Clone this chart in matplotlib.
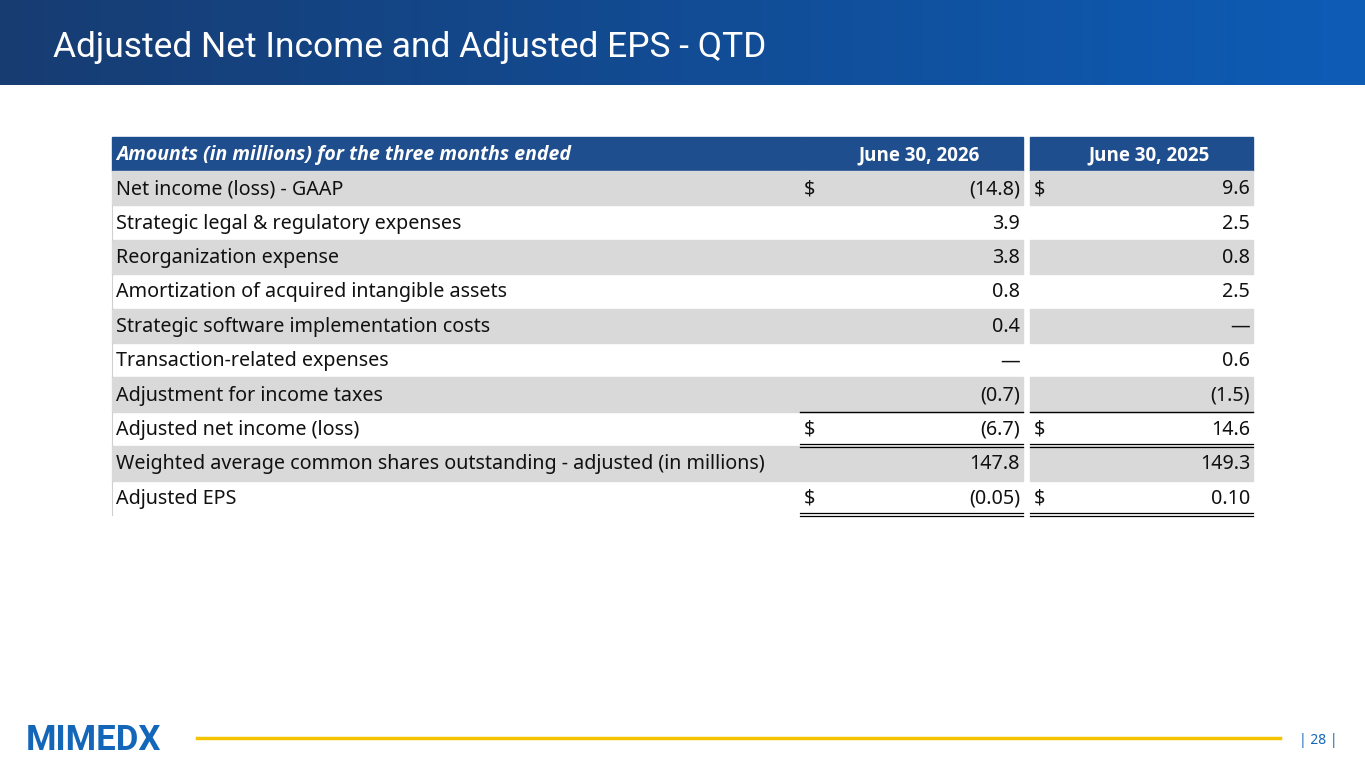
import numpy as np
import matplotlib.pyplot as plt
from matplotlib.patches import Rectangle
from matplotlib.colors import LinearSegmentedColormap

plt.rcParams['font.family'] = ['Noto Sans', 'DejaVu Sans']

title = "Adjusted Net Income and Adjusted EPS - QTD"
header = "Amounts (in millions) for the three months ended"
periods = ["June 30, 2026", "June 30, 2025"]
row_labels = [
    "Net income (loss) - GAAP",
    "Strategic legal & regulatory expenses",
    "Reorganization expense",
    "Amortization of acquired intangible assets",
    "Strategic software implementation costs",
    "Transaction-related expenses",
    "Adjustment for income taxes",
    "Adjusted net income (loss)",
    "Weighted average common shares outstanding - adjusted (in millions)",
    "Adjusted EPS",
]
values_2026 = ["(14.8)", "3.9", "3.8", "0.8", "0.4", "\u2014", "(0.7)", "(6.7)", "147.8", "(0.05)"]
values_2025 = ["9.6", "2.5", "0.8", "2.5", "\u2014", "0.6", "(1.5)", "14.6", "149.3", "0.10"]
dollar_rows = [0, 7, 9]
shaded_rows = [0, 2, 4, 6, 8]

fig = plt.figure(figsize=(13.65, 7.68), dpi=100)
ax = fig.add_axes([0, 0, 1, 1])
ax.set_xlim(0, 1365)
ax.set_ylim(768, 0)
ax.axis('off')

# header band gradient
grad = np.linspace(0, 1, 256).reshape(1, -1)
cmap = LinearSegmentedColormap.from_list('hb', ['#173c72', '#0d5cb6'])
ax.imshow(grad, cmap=cmap, extent=[0, 1365, 85, 0], aspect='auto')
ax.text(53, 48, title, color='white', fontsize=25.5, va='center', ha='left', family='Roboto')

# table geometry
x0, x1, x2, x3, x4 = 112, 800, 1023, 1030, 1253
top, hh, rh = 137, 34, 34.4
for xa, xb in [(x0, x1), (x1, x2), (x3, x4)]:
    ax.add_patch(Rectangle((xa, top), xb - xa, hh, color='#1f4e8f'))
ax.text(x0 + 4, top + hh / 2 + 1, header, color='white', fontsize=14,
        style='italic', weight='bold', va='center', family='Open Sans')
ax.text(x2 - 43, top + hh / 2 + 1, periods[0], color='white', fontsize=13.5, weight='bold',
        va='center', ha='right', family='Open Sans')
ax.text(x4 - 43, top + hh / 2 + 1, periods[1], color='white', fontsize=13.5, weight='bold',
        va='center', ha='right', family='Open Sans')

fs = 14.2
for i, lab in enumerate(row_labels):
    y = top + hh + i * rh
    yc = y + rh / 2 + 1
    if i in shaded_rows:
        for xa, xb in [(x0, x1), (x1, x2), (x3, x4)]:
            ax.add_patch(Rectangle((xa, y), xb - xa, rh, color='#d9d9d9'))
    else:
        ax.plot([x0, x0], [y, y + rh], color='#d0d0d0', lw=0.8)
    ax.text(x0 + 4, yc, lab, fontsize=fs, va='center', color='#111111')
    ax.text(x2 - 3, yc, values_2026[i], fontsize=fs, va='center', ha='right', color='#111111')
    ax.text(x4 - 3, yc, values_2025[i], fontsize=fs, va='center', ha='right', color='#111111')
    if i in dollar_rows:
        ax.text(x1 + 4, yc, "$", fontsize=fs, va='center', color='#111111')
        ax.text(x3 + 4, yc, "$", fontsize=fs, va='center', color='#111111')

# rule lines
for xa, xb in [(x1, x2), (x3, x4)]:
    yb = top + hh + 7 * rh
    ax.plot([xa, xb], [yb, yb], color='black', lw=1)
    for r in (8, 10):
        yb = top + hh + r * rh
        ax.plot([xa, xb], [yb - 2, yb - 2], color='black', lw=0.9)
        ax.plot([xa, xb], [yb + 1, yb + 1], color='black', lw=0.9)

# footer
ax.text(26, 741, "MIMEDX", fontsize=25, weight='bold', color='#1466b8', va='center', family='Roboto')
ax.plot([197, 1280], [738, 738], color='#f5c400', lw=2.5)
ax.text(1318, 741, "| 28 |", fontsize=10, color='#1466b8', va='center', ha='center')

fig.savefig('out.png', dpi=100)
